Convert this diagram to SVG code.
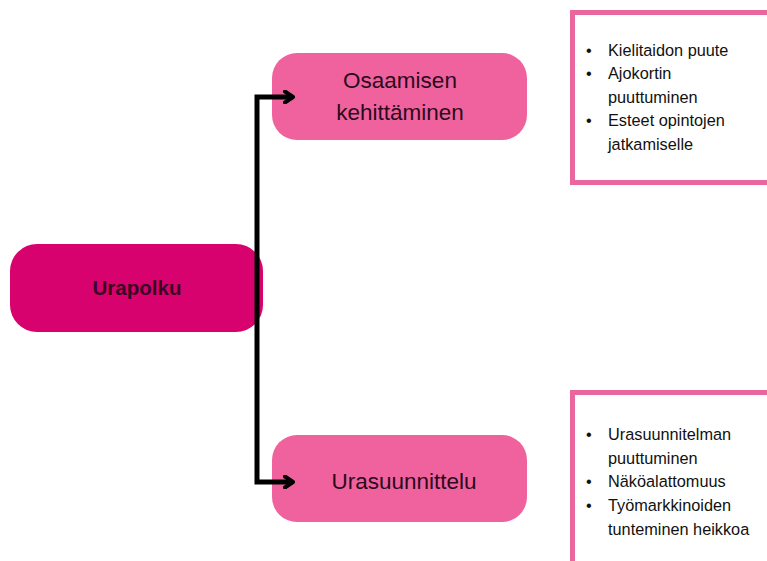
<svg xmlns="http://www.w3.org/2000/svg" width="767" height="561" viewBox="0 0 767 561">
  <defs>
    <marker id="chev" viewBox="0 0 12 14" refX="10" refY="7" markerWidth="12" markerHeight="14" markerUnits="userSpaceOnUse" orient="auto">
      <path d="M2,1.5 L10,7 L2,12.5" fill="none" stroke="#000" stroke-width="4" stroke-linecap="round" stroke-linejoin="round"/>
    </marker>
  </defs>
  <style>
    .root { fill: #d8026e; }
    .node { fill: #f0629e; }
    .note { fill: #ffffff; stroke: #e8679f; stroke-width: 5; }
    .label { font-family: "Liberation Sans", Arial, sans-serif; font-size: 22.5px; fill: #2b0a1c; text-anchor: middle; }
    .rootlabel { font-family: "Liberation Sans", Arial, sans-serif; font-size: 20.5px; font-weight: bold; fill: #3a0622; text-anchor: middle; }
    .item { font-family: "Liberation Sans", Arial, sans-serif; font-size: 16.3px; fill: #111111; }
    .link { fill: none; stroke: #000; stroke-width: 5; }
  </style>
  <rect width="767" height="561" fill="#ffffff"/>

  <g id="urapolku">
    <rect class="root" x="10" y="244" width="253" height="88" rx="27"/>
    <text class="rootlabel" x="137" y="295">Urapolku</text>
  </g>

  <g id="osaamisen-kehittaminen">
    <rect class="node" x="272" y="53" width="255" height="87" rx="25"/>
    <text class="label" x="400" y="88">Osaamisen</text>
    <text class="label" x="400" y="120">kehittäminen</text>
  </g>

  <g id="urasuunnittelu">
    <rect class="node" x="272" y="435" width="255" height="87" rx="25"/>
    <text class="label" x="404" y="489">Urasuunnittelu</text>
  </g>

  <g id="este-osaaminen">
    <rect class="note" x="572.5" y="12.5" width="210" height="170"/>
    <g class="item">
      <text x="586" y="56">•</text><text x="608" y="56">Kielitaidon puute</text>
      <text x="586" y="79">•</text><text x="608" y="79">Ajokortin</text>
      <text x="608" y="103">puuttuminen</text>
      <text x="586" y="126">•</text><text x="608" y="126">Esteet opintojen</text>
      <text x="608" y="150">jatkamiselle</text>
    </g>
  </g>

  <g id="este-urasuunnittelu">
    <rect class="note" x="572.5" y="392.5" width="210" height="180"/>
    <g class="item">
      <text x="586" y="440">•</text><text x="608" y="440">Urasuunnitelman</text>
      <text x="608" y="464">puuttuminen</text>
      <text x="586" y="487">•</text><text x="608" y="487">Näköalattomuus</text>
      <text x="586" y="511">•</text><text x="608" y="511">Työmarkkinoiden</text>
      <text x="608" y="535">tunteminen heikkoa</text>
    </g>
  </g>

  <g id="connectors">
    <path class="link" d="M257,287 V97 H293" marker-end="url(#chev)"/>
    <path class="link" d="M257,287 V482 H293" marker-end="url(#chev)"/>
  </g>
</svg>
